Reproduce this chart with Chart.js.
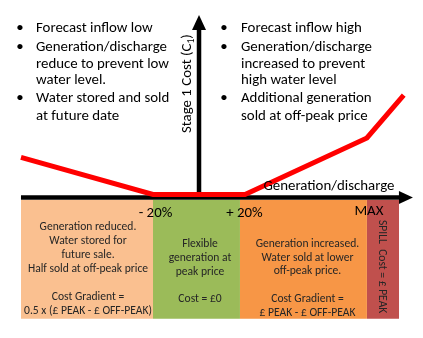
<!DOCTYPE html>
<html><head><meta charset="utf-8">
<script src="https://cdn.jsdelivr.net/npm/chart.js@4/dist/chart.umd.min.js"></script>
<style>html,body{margin:0;padding:0;background:#fff;overflow:hidden}#wrap{width:423px;height:338px}</style>
</head><body><div id="wrap"><canvas id="c" width="423" height="338"></canvas></div>
<script>
// ---- data ----
const costX = [-77.4, -20, 20, 73, 89];
const costY = [21.3, 1.5, 1.5, 31.7, 54.6];
const regionStart = [-77.4, -20, 17.8, 73];
const regionEnd = [-20, 17.8, 73, 87];
const regionTop = [-1.45, -1.45, -1.45, -1.45];
const regionBottom = [-64.8, -64.8, -64.8, -64.8];
const regionColors = ['#FAC090', '#9BBB59', '#F79646', '#C0504D'];
const axisEnd = [93, 97.3];
const tickValues = [-20, 20, 73];
const tickLabels = ['- 20%', '+ 20%', 'MAX'];
const xAxisTitle = 'Generation/discharge';
const yAxisTitle = ['Stage 1 Cost (C', '1', ')'];
const leftNotes = [['Forecast inflow low'], ['Generation/discharge', 'reduce to prevent low', 'water level.'], ['Water stored and sold', 'at future date']];
const rightNotes = [['Forecast inflow high'], ['Generation/discharge', 'increased to prevent', 'high water level'], ['Additional generation', 'sold at off-peak price']];
const regionText = [
  ['Generation reduced.', 'Water stored for', 'future sale.', 'Half sold at off-peak price', '', 'Cost Gradient =', '0.5 x (£ PEAK - £ OFF-PEAK)'],
  ['Flexible', 'generation at', 'peak price', '', 'Cost = £0'],
  ['Generation increased.', 'Water sold at lower', 'off-peak price.', '', 'Cost Gradient =', '£ PEAK - £ OFF-PEAK']
];
const spillText = 'SPILL  Cost = £ PEAK';

const FAM = 'Carlito, Lato, sans-serif';
function fitSize(ctx, text, target) {
  ctx.font = '100px ' + FAM;
  return 100 * target / ctx.measureText(text).width;
}

const datasets = [{
  data: costX.map((v, i) => ({x: v, y: costY[i]})),
  borderColor: '#FF0000', borderWidth: 5, pointRadius: 0, fill: false,
  order: 0, borderJoinStyle: 'miter', tension: 0
}];
regionStart.forEach((s, i) => {
  datasets.push({
    data: [{x: s, y: regionTop[i]}, {x: regionEnd[i], y: regionTop[i]}],
    borderColor: 'rgba(0,0,0,0)', borderWidth: 0, pointRadius: 0,
    backgroundColor: regionColors[i], fill: {value: regionBottom[i]}, order: 1
  });
});

const overlay = {
  id: 'overlay',
  beforeDatasetsDraw(chart) {
    const {ctx, scales: {x, y}} = chart;
    const x0 = x.getPixelForValue(0), y0 = y.getPixelForValue(0) + 0.3;
    const xl = x.getPixelForValue(regionStart[0]);
    const xr = x.getPixelForValue(axisEnd[0]);
    const yt = y.getPixelForValue(axisEnd[1]);
    ctx.save();
    ctx.strokeStyle = '#000'; ctx.fillStyle = '#000'; ctx.lineWidth = 4.5;
    ctx.beginPath(); ctx.moveTo(xl, y0); ctx.lineTo(xr - 10, y0); ctx.stroke();
    ctx.beginPath(); ctx.moveTo(xr, y0); ctx.lineTo(xr - 14, y0 - 6.5); ctx.lineTo(xr - 14, y0 + 6.5); ctx.closePath(); ctx.fill();
    ctx.beginPath(); ctx.moveTo(x0, y0); ctx.lineTo(x0, yt + 10); ctx.stroke();
    ctx.beginPath(); ctx.moveTo(x0, yt); ctx.lineTo(x0 - 7, yt + 15); ctx.lineTo(x0 + 7, yt + 15); ctx.closePath(); ctx.fill();
    ctx.restore();
  },
  afterDraw(chart) {
    const {ctx, scales: {x, y}} = chart;
    ctx.save();
    const big = fitSize(ctx, 'Generation/discharge', 131);
    const small = fitSize(ctx, '0.5 x (£ PEAK - £ OFF-PEAK)', 128);
    // bullet notes
    ctx.fillStyle = '#000';
    ctx.textBaseline = 'alphabetic';
    ctx.font = big + 'px ' + FAM;
    const baseY = [32, 50.5, 67.5, 84, 102, 119.5];
    function notes(list, bx, tx) {
      let k = 0;
      list.forEach(group => {
        group.forEach((line, j) => {
          if (j === 0) { ctx.textAlign = 'center'; ctx.fillText('•', bx, baseY[k]); }
          ctx.textAlign = 'left'; ctx.fillText(line, tx, baseY[k]);
          k++;
        });
      });
    }
    notes(leftNotes, 20, 36);
    notes(rightNotes, 224, 241);
    // x axis title
    ctx.textAlign = 'left';
    ctx.fillText(xAxisTitle, 263.5, 190);
    // tick labels
    const tickOff = [2.5, -0.5, 2];
    const tickBase = [216.5, 216.5, 214.5];
    ctx.textAlign = 'center';
    tickValues.forEach((v, i) => ctx.fillText(tickLabels[i], x.getPixelForValue(v) + tickOff[i], tickBase[i]));
    // y axis title, rotated
    ctx.save();
    ctx.translate(191, 133);
    ctx.rotate(-Math.PI / 2);
    ctx.textAlign = 'left';
    ctx.font = big + 'px ' + FAM;
    ctx.fillText(yAxisTitle[0], 0, 0);
    let w = ctx.measureText(yAxisTitle[0]).width;
    ctx.font = (big * 0.65) + 'px ' + FAM;
    ctx.fillText(yAxisTitle[1], w, 3);
    w += ctx.measureText(yAxisTitle[1]).width;
    ctx.font = big + 'px ' + FAM;
    ctx.fillText(yAxisTitle[2], w, 0);
    ctx.restore();
    // region text
    ctx.fillStyle = '#262626';
    ctx.font = small + 'px ' + FAM;
    ctx.textAlign = 'center';
    const textOff = [1, 3.5, 4];
    const textTop = [230, 246.7, 246.7];
    const lineH = [14, 13.9, 13.8];
    regionText.forEach((lines, i) => {
      const cx = (x.getPixelForValue(regionStart[i]) + x.getPixelForValue(regionEnd[i])) / 2 + textOff[i];
      lines.forEach((line, j) => { if (line) ctx.fillText(line, cx, textTop[i] + j * lineH[i]); });
    });
    // spill text rotated clockwise
    const sx = (x.getPixelForValue(regionStart[3]) + x.getPixelForValue(regionEnd[3])) / 2 - 1.5;
    ctx.save();
    ctx.translate(sx, 220);
    ctx.rotate(Math.PI / 2);
    ctx.textAlign = 'left';
    ctx.textBaseline = 'middle';
    ctx.fillText(spillText, 0, 0);
    ctx.restore();
    ctx.restore();
  }
};

new Chart(document.getElementById('c'), {
  type: 'line',
  data: {datasets},
  options: {
    responsive: false, animation: false, events: [],
    layout: {padding: {left: 15, right: 8, top: 10, bottom: 19}},
    scales: {
      x: {type: 'linear', min: -80, max: 93.9, display: false},
      y: {type: 'linear', min: -65, max: 100, display: false}
    },
    plugins: {legend: {display: false}, tooltip: {enabled: false}, filler: {propagate: false}}
  },
  plugins: [overlay]
});
</script></body></html>
